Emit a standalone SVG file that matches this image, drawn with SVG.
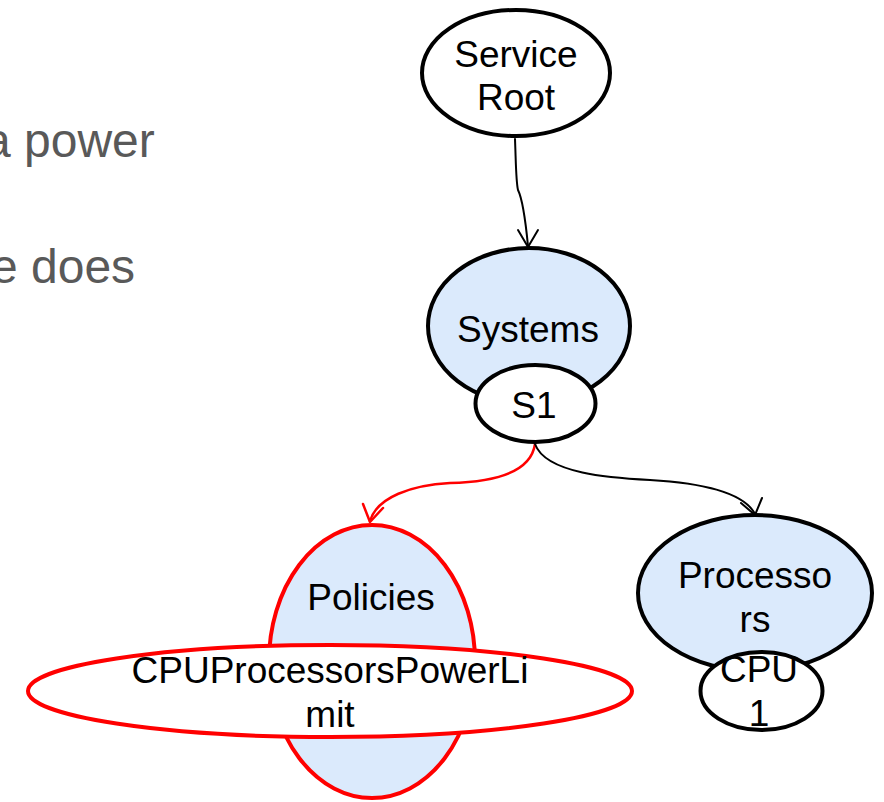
<svg xmlns="http://www.w3.org/2000/svg" width="884" height="802" viewBox="0 0 884 802">
<style>
.bg{font-family:"Liberation Sans",Arial,sans-serif;font-size:48px;fill:#595959}
.t{font-family:"Liberation Sans",Arial,sans-serif;font-size:37px;fill:#000;text-anchor:middle}
.nb{stroke:#000;stroke-width:4}
.nr{stroke:#ff0000;stroke-width:4}
.blue{fill:#dbeafc}
.white{fill:#fff}
.cb{fill:none;stroke:#000;stroke-width:2;stroke-linecap:round;stroke-linejoin:round}
.cr{fill:none;stroke:#ff0000;stroke-width:2.5;stroke-linecap:round;stroke-linejoin:round}
</style>
<rect width="884" height="802" fill="#fff"/>
<g id="bg-text">
<text class="bg" x="-16" y="157">a power</text>
<text class="bg" x="-9" y="283">e does</text>
</g>
<g id="connectors">
<path class="cb" d="M515 139 C516 165 516 182 518 190 C522 198 525 215 528 246"/>
<polyline class="cb" points="518,230 528,247 538,230"/>
<path class="cr" d="M535 444 C531 472 495 482 450 483 C412 485 377 497 370 521"/>
<polyline class="cr" points="363,504 370,522 383,508"/>
<path class="cb" d="M535 444 C546 474 612 478 650 480 C702 483 744 493 755 514"/>
<polyline class="cb" points="741,503 755,515 762,498"/>
</g>
<g id="service-root">
<ellipse class="nb white" cx="516" cy="73" rx="94" ry="63"/>
<text class="t" x="516" y="67">Service</text>
<text class="t" x="516" y="110">Root</text>
</g>
<g id="systems">
<ellipse class="nb blue" cx="529" cy="326" rx="101" ry="78"/>
<text class="t" x="528" y="342">Systems</text>
</g>
<g id="s1">
<ellipse class="nb white" cx="535.5" cy="403.5" rx="60" ry="38.5"/>
<text class="t" x="534" y="418">S1</text>
</g>
<g id="policies">
<ellipse class="nr blue" cx="372" cy="661.5" rx="103" ry="136.5"/>
<text class="t" x="371" y="610">Policies</text>
</g>
<g id="cpu-power-limit">
<ellipse class="nr white" cx="330" cy="691" rx="302" ry="46"/>
<text class="t" x="330" y="683">CPUProcessorsPowerLi</text>
<text class="t" x="330" y="727">mit</text>
</g>
<g id="processors">
<ellipse class="nb blue" cx="755" cy="593" rx="117" ry="78"/>
<text class="t" x="755" y="588">Processo</text>
<text class="t" x="755" y="632">rs</text>
</g>
<g id="cpu1">
<ellipse class="nb white" cx="761.5" cy="691" rx="61" ry="39"/>
<text class="t" x="759" y="682">CPU</text>
<text class="t" x="759" y="726">1</text>
</g>
</svg>
